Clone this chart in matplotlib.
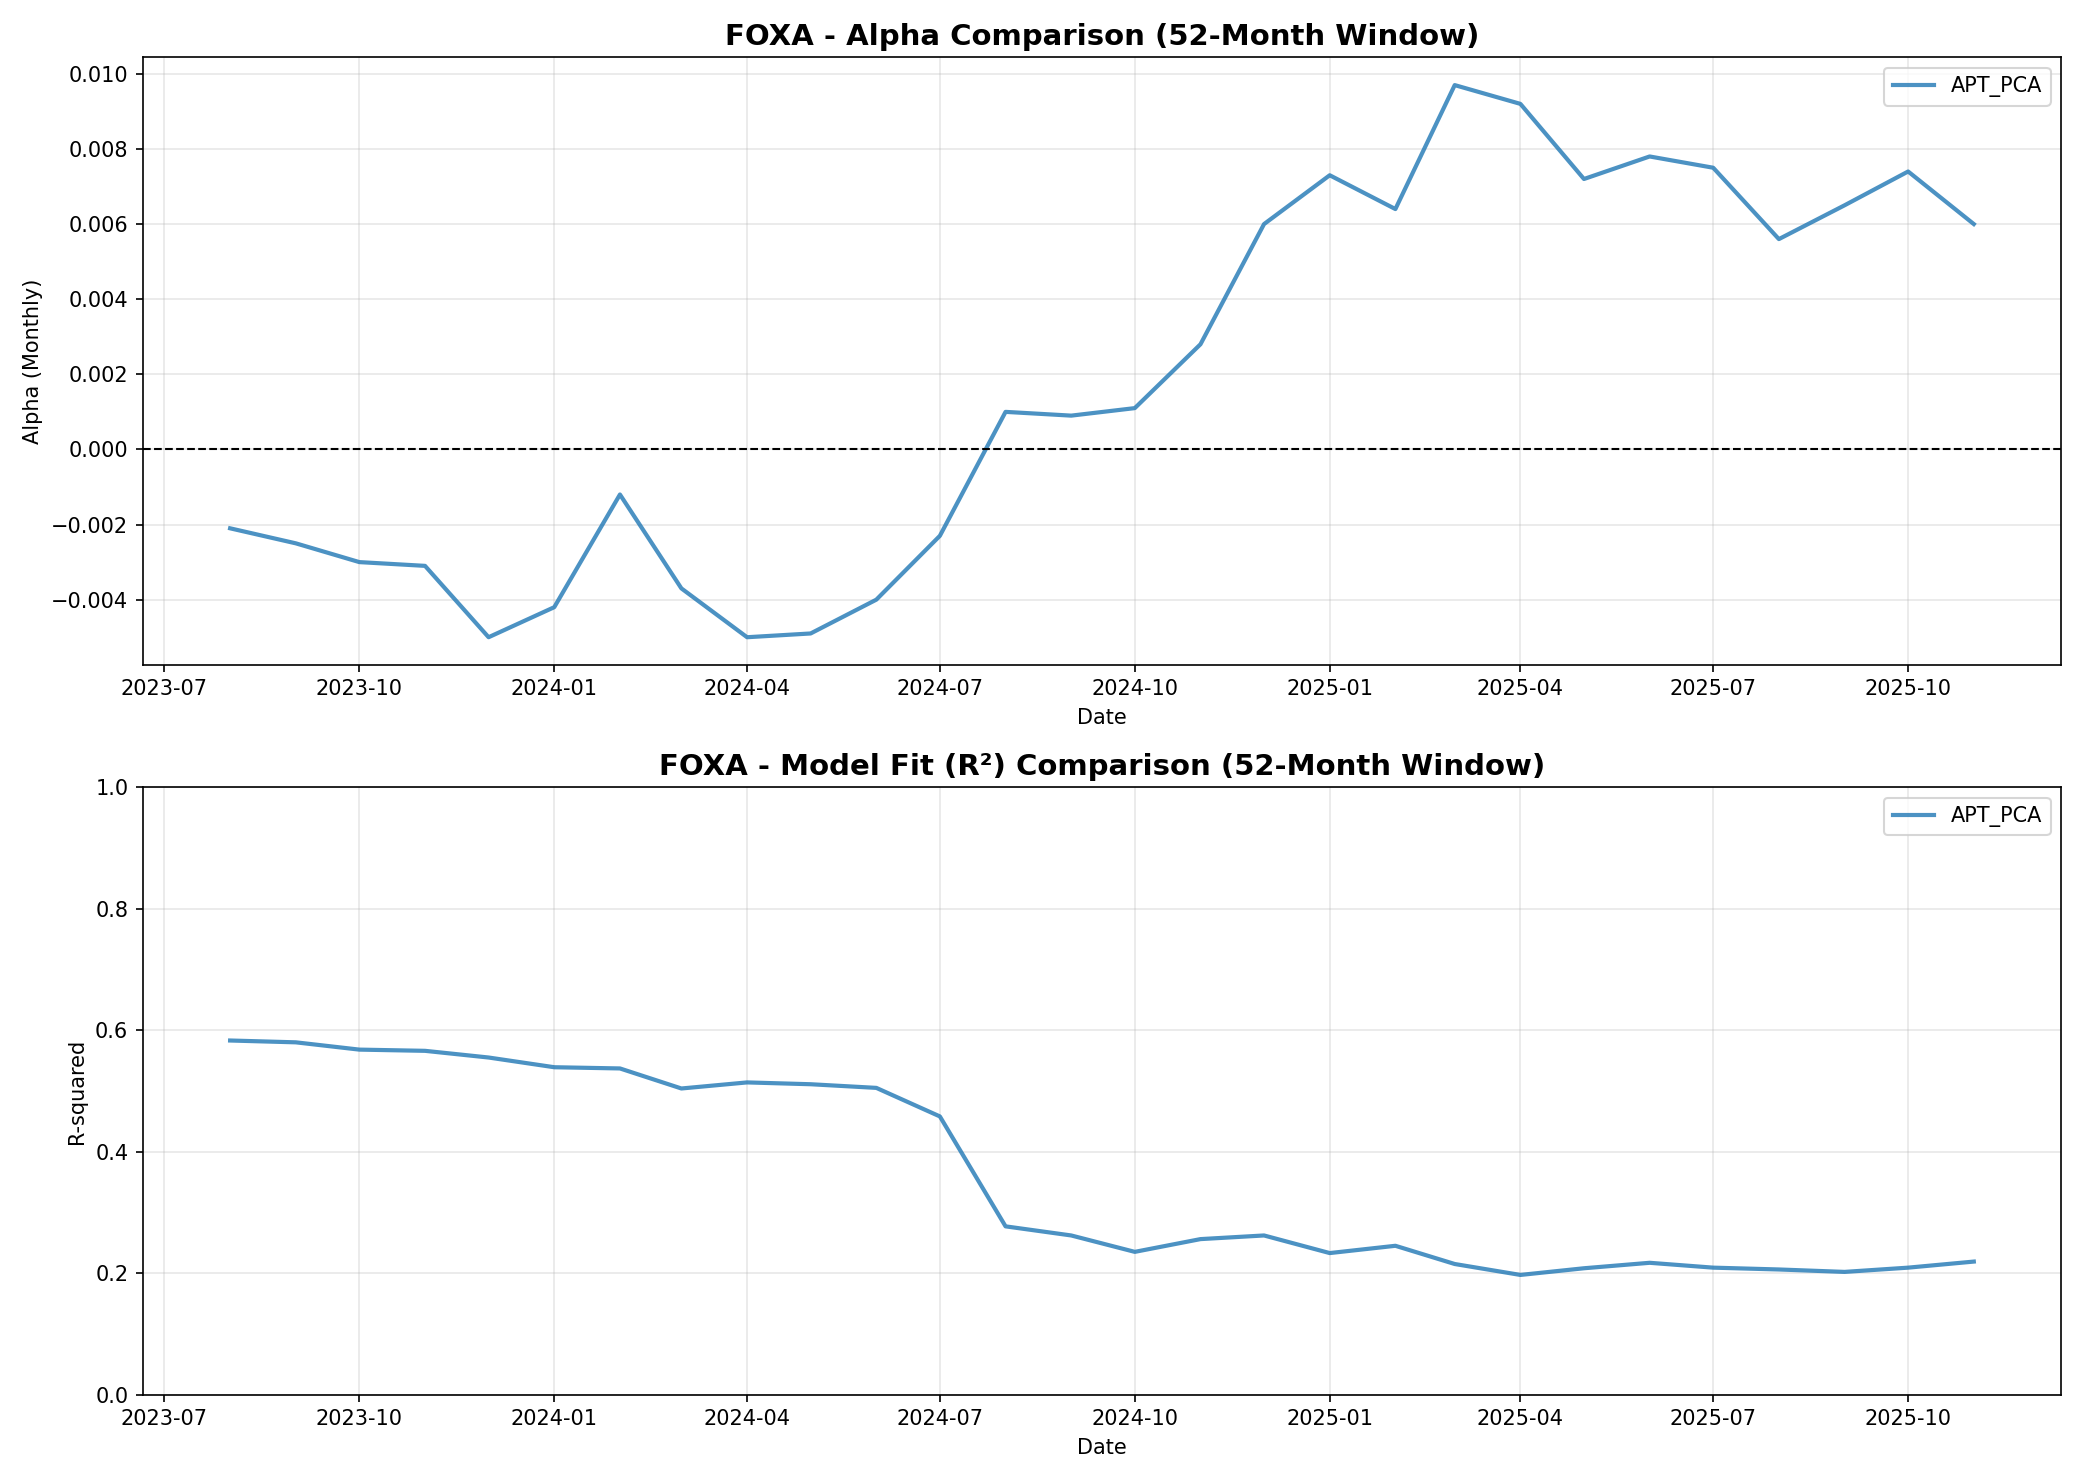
import matplotlib
matplotlib.use("Agg")
import matplotlib.pyplot as plt
import pandas as pd

dates = pd.date_range("2023-08-01", "2025-11-01", freq="MS")

alpha = [-0.0021, -0.0025, -0.0030, -0.0031, -0.0050, -0.0042, -0.0012, -0.0037,
         -0.0050, -0.0049, -0.0040, -0.0023, 0.0010, 0.0009, 0.0011, 0.0028,
         0.0060, 0.0073, 0.0064, 0.0097, 0.0092, 0.0072, 0.0078, 0.0075,
         0.0056, 0.0065, 0.0074, 0.0060]

r_squared = [0.583, 0.580, 0.568, 0.566, 0.555, 0.539, 0.537, 0.504, 0.514, 0.511,
             0.505, 0.458, 0.277, 0.262, 0.235, 0.256, 0.262, 0.233, 0.245, 0.215,
             0.197, 0.208, 0.217, 0.209, 0.206, 0.202, 0.209, 0.219]

fig, (ax1, ax2) = plt.subplots(2, 1, figsize=(13.89, 9.88))

ax1.plot(dates, alpha, color="#1f77b4", alpha=0.8, linewidth=2, label="APT_PCA")
ax1.axhline(0, color="black", linestyle="--", linewidth=1)
ax1.set_title("FOXA - Alpha Comparison (52-Month Window)", fontsize=14, fontweight="bold")
ax1.set_xlabel("Date")
ax1.set_ylabel("Alpha (Monthly)")
ax1.legend(loc="upper right")
ax1.grid(True, alpha=0.3)

ax2.plot(dates, r_squared, color="#1f77b4", alpha=0.8, linewidth=2, label="APT_PCA")
ax2.set_title("FOXA - Model Fit (R²) Comparison (52-Month Window)", fontsize=14, fontweight="bold")
ax2.set_xlabel("Date")
ax2.set_ylabel("R-squared")
ax2.set_ylim(0, 1)
ax2.legend(loc="upper right")
ax2.grid(True, alpha=0.3)

plt.tight_layout()
plt.savefig("out.png", dpi=150)
